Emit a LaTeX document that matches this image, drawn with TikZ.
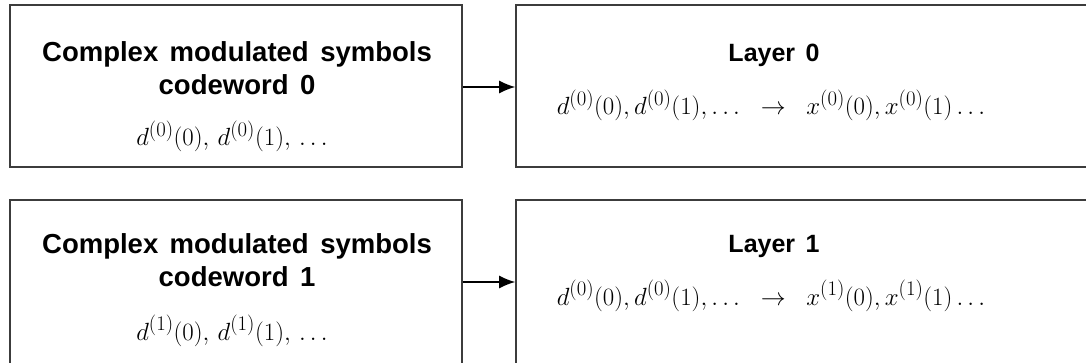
\documentclass[tikz,border=0pt]{standalone}
\usepackage{fontspec}
\usetikzlibrary{positioning,arrows.meta}
\newfontfamily\headfont[WordSpace=1.5]{Liberation Sans}
\definecolor{lineCol}{HTML}{3C3C3C}

\begin{document}
\begin{tikzpicture}[
    x=1pt, y=-1pt,
    >={Latex[length=16pt,width=13pt]},
    box/.style={draw=lineCol, line width=1.6pt, inner sep=0pt},
    head/.style={font=\headfont\bfseries\fontsize{27.5}{33}\selectfont, align=center, anchor=base},
    layhead/.style={head, font=\headfont\bfseries\fontsize{25}{30}\selectfont},
    sym/.style={font=\fontsize{30}{33}\selectfont, anchor=base, inner sep=0pt},
    arr/.style={->, line width=1.4pt, draw=black},
  ]
\useasboundingbox (0,0) rectangle (1086,363);
\clip (0,0) rectangle (1086,363);

% Codeword boxes
\node[box, minimum width=452pt, minimum height=162pt] (cw0) at (236,86) {};
\node[box, minimum width=452pt, minimum height=190pt] (cw1) at (236,295) {};

% Layer boxes (run past the right and lower edge)
\node[box, minimum width=620pt, minimum height=162pt] (lay0) at (826,86) {};
\node[box, minimum width=620pt, minimum height=190pt] (lay1) at (826,295) {};

% Texts, codeword 0
\node[head] (cw0t) at (237,95) {Complex modulated symbols\\codeword 0};
\node[sym] (cw0s) at (232,146) {$d^{(0)}(0),\, d^{(0)}(1),\, \ldots$};

% Texts, codeword 1
\node[head] (cw1t) at (237,287) {Complex modulated symbols\\codeword 1};
\node[sym] (cw1s) at (232,340) {$d^{(1)}(0),\, d^{(1)}(1),\, \ldots$};

% Texts, layers
\node[layhead] (lay0t) at (774,62) {Layer 0};
\node[sym] (lay0s) at (771,115) {$d^{(0)}(0), d^{(0)}(1), \ldots \;\;\rightarrow\;\; x^{(0)}(0), x^{(0)}(1) \ldots$};
\node[layhead] (lay1t) at (774,253) {Layer 1};
\node[sym] (lay1s) at (771,305) {$d^{(0)}(0), d^{(0)}(1), \ldots \;\;\rightarrow\;\; x^{(1)}(0), x^{(1)}(1) \ldots$};

% Arrows
\draw[arr] (cw0.east |- 0,87) -- (lay0.west |- 0,87);
\draw[arr] (cw1.east |- 0,282) -- (lay1.west |- 0,282);

\end{tikzpicture}
\end{document}
